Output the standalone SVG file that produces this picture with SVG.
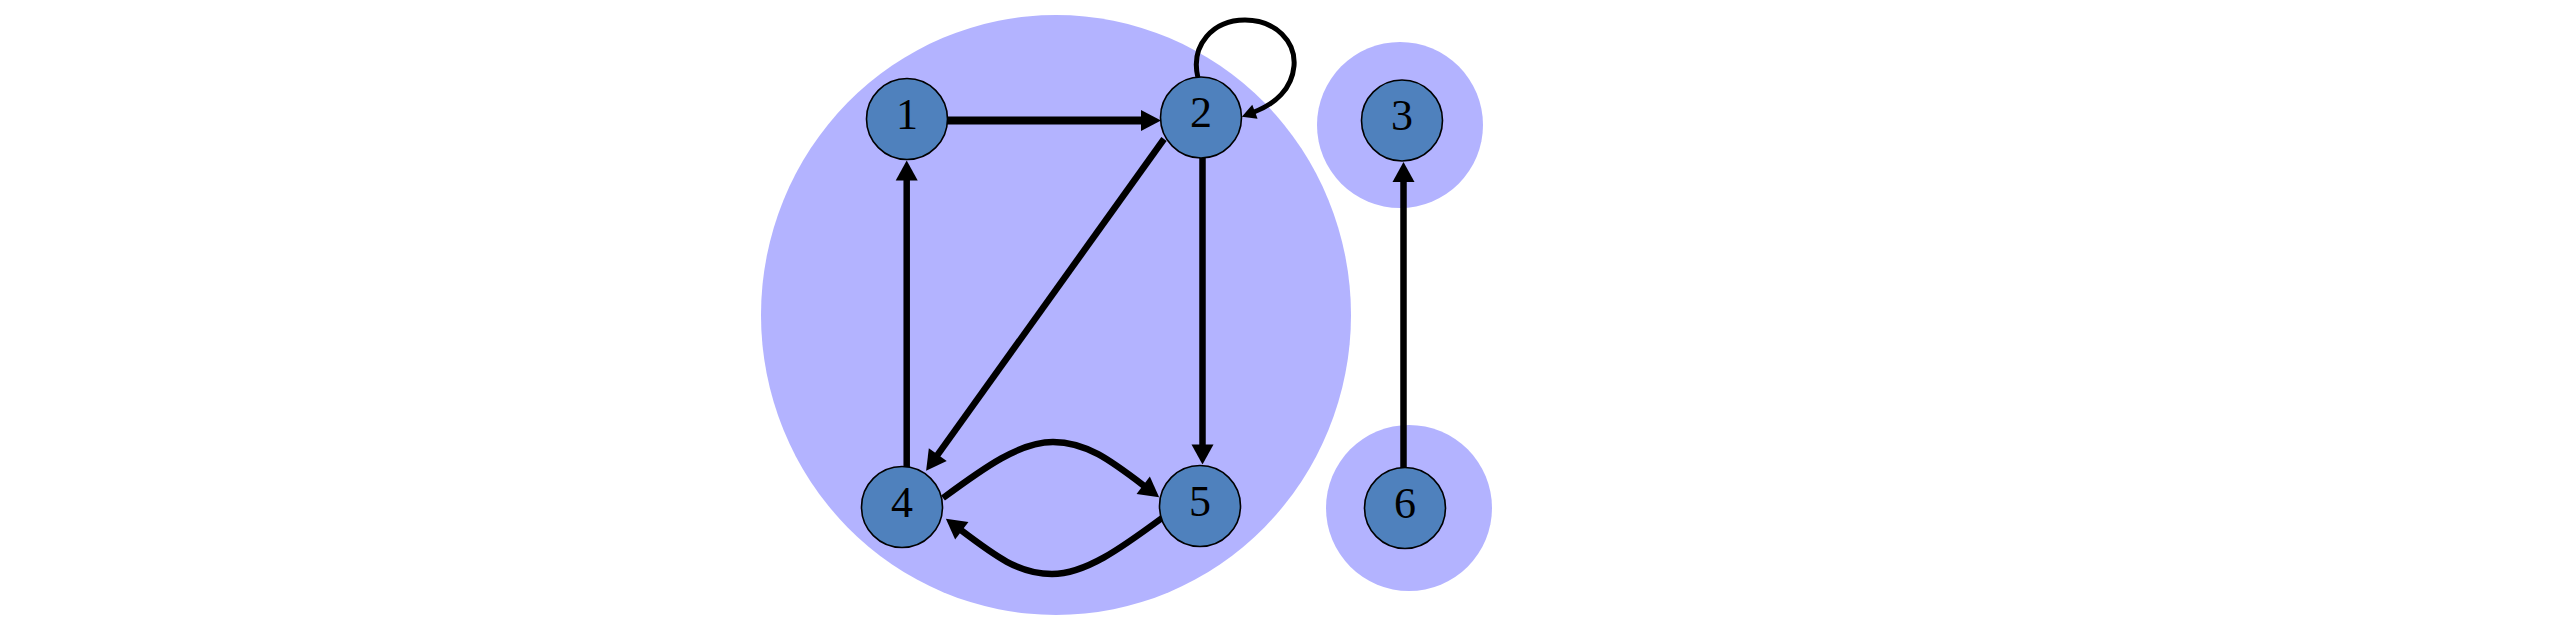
<svg xmlns="http://www.w3.org/2000/svg" width="2565" height="630" viewBox="0 0 2565 630">
<style>
.cl{fill:#b3b3ff;stroke:none}
.nd{fill:#4f81bd;stroke:#000;stroke-width:1.6}
.lb{font-family:"Liberation Serif","Times New Roman",serif;font-size:44px;fill:#000;text-anchor:middle}
.e{fill:none;stroke:#000;stroke-width:6.5}
.e1{fill:none;stroke:#000;stroke-width:8}
.el{fill:none;stroke:#000;stroke-width:5}
</style>
<defs>
<marker id="ah" markerUnits="userSpaceOnUse" markerWidth="24" markerHeight="24" refX="1" refY="11" orient="auto" overflow="visible"><path d="M0,0 L20,11 L0,22 z" fill="#000"/></marker>
<marker id="ahb" markerUnits="userSpaceOnUse" markerWidth="24" markerHeight="24" refX="1" refY="10.5" orient="auto" overflow="visible"><path d="M0,0 L20,10.5 L0,21 z" fill="#000"/></marker>
<marker id="ahs" markerUnits="userSpaceOnUse" markerWidth="16" markerHeight="16" refX="1" refY="7.5" orient="auto" overflow="visible"><path d="M0,0 L14,7.5 L0,15 z" fill="#000"/></marker>
</defs>
<rect width="2565" height="630" fill="#fff"/>
<g id="clusters">
<ellipse class="cl" cx="1056" cy="315" rx="295" ry="300"/>
<circle class="cl" cx="1400" cy="125" r="83"/>
<circle class="cl" cx="1409" cy="508" r="83"/>
</g>
<g id="edges">
<path class="e1" d="M947,120.5 L1142,120.5" marker-end="url(#ahb)"/>
<path class="e" d="M906.7,467 L906.7,179.5" marker-end="url(#ah)"/>
<path class="e" d="M1202.5,158 L1202.5,445.5" marker-end="url(#ah)"/>
<path class="e" d="M1164,139 L937.2,455.4" marker-end="url(#ah)"/>
<path class="e" d="M1403.5,468 L1403.5,181" marker-end="url(#ah)"/>
<path class="e" d="M943,498 C985,467 1020,442 1053,442 C1086,442 1110,460 1144,485.8" marker-end="url(#ah)"/>
<path class="e" d="M1162,518 C1120,549 1085,574 1052,574 C1019,574 995,556 961,530.2" marker-end="url(#ah)"/>
<path class="el" d="M1198,78 C1190,45 1213,20 1245,20 C1276,20 1296,42 1294,66 C1292,89 1275,104 1254,112" marker-end="url(#ahs)"/>
</g>
<g id="node1"><circle class="nd" cx="907" cy="119" r="40.5"/><text class="lb" x="907" y="129">1</text></g>
<g id="node2"><circle class="nd" cx="1201" cy="117.5" r="40.5"/><text class="lb" x="1201" y="127">2</text></g>
<g id="node3"><circle class="nd" cx="1402" cy="120.5" r="40.5"/><text class="lb" x="1402" y="130">3</text></g>
<g id="node4"><circle class="nd" cx="902" cy="507" r="40.5"/><text class="lb" x="902" y="516.5">4</text></g>
<g id="node5"><circle class="nd" cx="1200" cy="506" r="40.5"/><text class="lb" x="1200" y="515.5">5</text></g>
<g id="node6"><circle class="nd" cx="1405" cy="508" r="40.5"/><text class="lb" x="1405" y="517.5">6</text></g>
</svg>
